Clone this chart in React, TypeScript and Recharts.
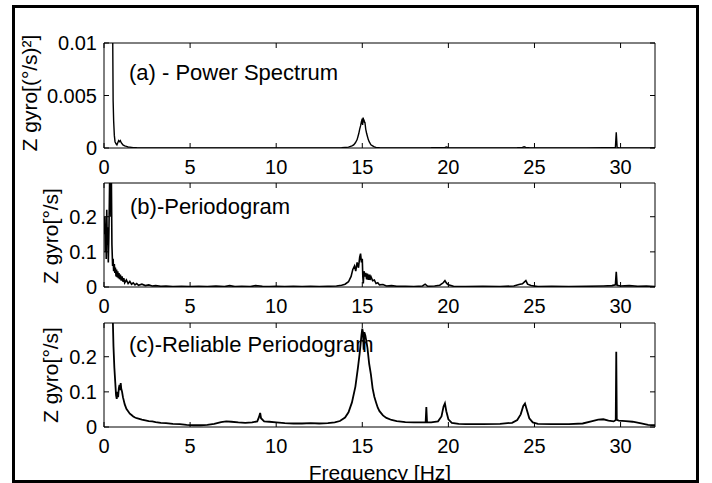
import React from 'react';
import { LineChart, Line, XAxis, YAxis } from 'recharts';

// (a) power spectrum, Z gyro [(deg/s)^2]
const freqA = [
  0.45, 0.5, 0.53, 0.56, 0.6, 0.64, 0.7, 0.75, 0.8, 0.85, 0.9, 0.95, 1.0, 1.05, 1.1, 1.2, 1.3, 1.4,
  1.5, 1.7, 1.9, 2.2, 2.6, 3, 4, 5, 6, 7, 8, 9, 10, 11, 12, 13, 13.8, 14.2, 14.4, 14.5, 14.6, 14.7,
  14.75, 14.8, 14.85, 14.9, 14.95, 15.0, 15.02, 15.05, 15.08, 15.1, 15.13, 15.15, 15.2, 15.25, 15.3,
  15.35, 15.4, 15.5, 15.6, 15.7, 15.8, 16.0, 16.5, 17, 18, 19, 19.8, 19.9, 20.0, 20.5, 21, 22, 23,
  24, 24.3, 24.4, 24.5, 24.7, 25, 26, 27, 28, 29, 29.6, 29.7, 29.75, 29.8, 29.9, 30.5, 31, 32,
];
const powerA = [
  0.05, 0.012, 0.0045, 0.0026, 0.0012, 0.0006, 0.0004, 0.0003, 0.0005, 0.0007, 0.0006, 0.0007, 0.0005,
  0.0004, 0.0003, 0.0002, 0.00015, 0.0001, 0.00008, 0.00004, 0.00002, 0.00001, 0.00001, 0.00001,
  0.00001, 0, 0.00001, 0, 0.00001, 0, 0.00001, 0, 0.00001, 0.00001, 0.00003, 0.00008, 0.0002, 0.0003,
  0.0005, 0.0008, 0.0011, 0.0014, 0.0018, 0.0021, 0.0025, 0.0028, 0.0022, 0.0029, 0.0026, 0.0027,
  0.0024, 0.0025, 0.0018, 0.0014, 0.0011, 0.0008, 0.0006, 0.0003, 0.0002, 0.0001, 0.00006, 0.00002,
  0.00001, 0, 0.00001, 0.00002, 0.00006, 0.0001, 0.00004, 0.00001, 0, 0.00001, 0, 0.00002, 0.00005,
  0.00012, 0.00006, 0.00002, 0, 0.00001, 0, 0.00001, 0.00002, 0.00003, 0.00005, 0.0015, 0.00005,
  0.00002, 0.00001, 0, 0,
];

// (b) periodogram, Z gyro [deg/s]
const freqB = [
  0.02, 0.05, 0.08, 0.1, 0.13, 0.16, 0.19, 0.22, 0.25, 0.28, 0.31, 0.34, 0.37, 0.4, 0.43, 0.46, 0.5,
  0.53, 0.56, 0.6, 0.63, 0.66, 0.7, 0.73, 0.76, 0.8, 0.83, 0.87, 0.9, 0.95, 1.0, 1.05, 1.1, 1.15, 1.2,
  1.3, 1.4, 1.5, 1.6, 1.7, 1.8, 1.9, 2.0, 2.2, 2.4, 2.6, 2.8, 3.0, 3.3, 3.6, 4.0, 4.5, 5.0, 5.5, 6.0,
  6.5, 7.0, 7.3, 7.6, 8.0, 8.5, 8.8, 9.2, 9.6, 10.0, 10.5, 11.0, 11.5, 12.0, 12.5, 13.0, 13.5, 13.8,
  14.0, 14.2, 14.35, 14.45, 14.55, 14.62, 14.7, 14.78, 14.85, 14.9, 14.95, 15.0, 15.03, 15.06, 15.1,
  15.15, 15.2, 15.25, 15.3, 15.35, 15.4, 15.45, 15.5, 15.6, 15.7, 15.8, 15.9, 16.0, 16.2, 16.4, 16.7,
  17.0, 17.5, 18.0, 18.5, 18.65, 18.8, 19.2, 19.5, 19.7, 19.8, 19.9, 20.0, 20.3, 21, 22, 23, 23.8,
  24.1, 24.3, 24.5, 24.6, 24.8, 25.2, 26, 27, 28, 29, 29.5, 29.7, 29.75, 29.8, 30, 30.5, 31, 31.5, 32,
];
const periodB = [
  0.15, 0.2, 0.1, 0.18, 0.08, 0.22, 0.12, 0.17, 0.07, 0.14, 0.24, 0.35, 0.34, 0.2, 0.3, 0.12, 0.06,
  0.08, 0.045, 0.065, 0.04, 0.055, 0.03, 0.05, 0.028, 0.045, 0.025, 0.04, 0.022, 0.035, 0.018, 0.03,
  0.015, 0.025, 0.012, 0.02, 0.01, 0.016, 0.008, 0.012, 0.006, 0.01, 0.005, 0.008, 0.004, 0.006, 0.003,
  0.004, 0.002, 0.003, 0.001, 0.002, 0.001, 0.002, 0.001, 0.003, 0.001, 0.004, 0.001, 0.002, 0.001,
  0.004, 0.002, 0.001, 0.002, 0.001, 0.002, 0.001, 0.002, 0.001, 0.002, 0.003, 0.005, 0.008, 0.015,
  0.03, 0.05, 0.06, 0.045, 0.07, 0.055, 0.085, 0.095, 0.07, 0.08, 0.03, 0.01, 0.045, 0.03, 0.04, 0.022,
  0.038, 0.02, 0.035, 0.02, 0.03, 0.018, 0.02, 0.01, 0.012, 0.006, 0.007, 0.003, 0.004, 0.002, 0.002,
  0.001, 0.003, 0.008, 0.002, 0.003, 0.005, 0.012, 0.018, 0.01, 0.006, 0.002, 0.001, 0.002, 0.001,
  0.003, 0.007, 0.009, 0.018, 0.008, 0.004, 0.001, 0.002, 0.001, 0.002, 0.003, 0.004, 0.006, 0.043,
  0.005, 0.003, 0.004, 0.002, 0.003, 0.001,
];

// (c) reliable periodogram, Z gyro [deg/s]
const freqC = [
  0.45, 0.5, 0.55, 0.6, 0.65, 0.7, 0.74, 0.78, 0.82, 0.86, 0.9, 0.94, 0.97, 1.0, 1.05, 1.1, 1.15, 1.2,
  1.3, 1.4, 1.5, 1.6, 1.7, 1.8, 1.9, 2.0, 2.2, 2.4, 2.6, 2.8, 3.0, 3.3, 3.6, 4.0, 4.4, 4.8, 5.2, 5.6,
  6.0, 6.4, 6.8, 7.1, 7.4, 7.8, 8.2, 8.6, 8.9, 9.0, 9.07, 9.12, 9.3, 9.6, 10.0, 10.5, 11, 11.5, 12,
  12.5, 13, 13.4, 13.7, 14.0, 14.2, 14.4, 14.6, 14.75, 14.85, 14.95, 15.0, 15.04, 15.08, 15.12, 15.18,
  15.25, 15.3, 15.4, 15.5, 15.6, 15.7, 15.8, 15.9, 16.0, 16.2, 16.4, 16.7, 17.0, 17.5, 18.0, 18.5,
  18.68, 18.72, 18.76, 19.0, 19.4, 19.6, 19.72, 19.8, 19.88, 20.0, 20.2, 20.6, 21, 22, 23, 23.7, 24.0,
  24.2, 24.35, 24.45, 24.55, 24.7, 24.9, 25.2, 26, 27, 27.8, 28.3, 28.7, 29.0, 29.3, 29.6, 29.72,
  29.75, 29.78, 29.9, 30.3, 30.7, 31.2, 31.6, 32,
];
const reliableC = [
  0.5, 0.33, 0.23, 0.17, 0.13, 0.09, 0.08, 0.1, 0.085, 0.11, 0.12, 0.105, 0.125, 0.11, 0.1, 0.085,
  0.075, 0.065, 0.052, 0.045, 0.038, 0.034, 0.03, 0.027, 0.025, 0.024, 0.021, 0.019, 0.017, 0.016,
  0.014, 0.012, 0.011, 0.009, 0.008, 0.006, 0.005, 0.005, 0.006, 0.009, 0.014, 0.016, 0.015, 0.013,
  0.012, 0.013, 0.016, 0.028, 0.04, 0.025, 0.016, 0.015, 0.013, 0.011, 0.01, 0.01, 0.011, 0.01, 0.011,
  0.013, 0.017, 0.027, 0.042, 0.07, 0.115, 0.17, 0.21, 0.26, 0.28, 0.27, 0.22, 0.27, 0.26, 0.24,
  0.225, 0.18, 0.15, 0.11, 0.086, 0.07, 0.055, 0.045, 0.033, 0.026, 0.02, 0.017, 0.014, 0.013, 0.013,
  0.014, 0.057, 0.014, 0.013, 0.016, 0.03, 0.058, 0.067, 0.045, 0.022, 0.012, 0.009, 0.008, 0.008,
  0.009, 0.012, 0.02, 0.036, 0.06, 0.067, 0.05, 0.025, 0.013, 0.009, 0.008, 0.008, 0.01, 0.016, 0.021,
  0.022, 0.018, 0.016, 0.02, 0.214, 0.02, 0.018, 0.017, 0.015, 0.01, 0.006, 0.005,
];

const xTicks = [0, 5, 10, 15, 20, 25, 30];
const ticksA = [0, 0.005, 0.01];
const ticksBC = [0, 0.1, 0.2];

const dataA = freqA.map((f, i) => ({ f, v: powerA[i] }));
const dataB = freqB.map((f, i) => ({ f, v: periodB[i] }));
const dataC = freqC.map((f, i) => ({ f, v: reliableC[i] }));

const W = 712;
const H = 483;
const LEFT = 104;
const RIGHT = 655;
const FONT = '"Liberation Sans", Arial, Helvetica, sans-serif';

const BottomTick = (props: any) => {
  const { x, y, payload } = props;
  return (
    <g>
      <line x1={x} y1={y} x2={x} y2={y - 5} stroke="#000" />
      <text x={x} y={y + 26} textAnchor="middle" fontSize={20} fontFamily={FONT} fill="#000">
        {payload.value}
      </text>
    </g>
  );
};

const TopTick = (props: any) => {
  const { x, y } = props;
  return <line x1={x} y1={y} x2={x} y2={y + 5} stroke="#000" />;
};

const LeftTick = (props: any) => {
  const { x, y, payload } = props;
  return (
    <g>
      <line x1={x} y1={y} x2={x + 5} y2={y} stroke="#000" />
      <text x={x - 7} y={y + 7} textAnchor="end" fontSize={20} fontFamily={FONT} fill="#000">
        {String(payload.value)}
      </text>
    </g>
  );
};

const RightTick = (props: any) => {
  const { x, y } = props;
  return <line x1={x} y1={y} x2={x - 5} y2={y} stroke="#000" />;
};

type PanelProps = {
  data: { f: number; v: number }[];
  top: number;
  bottom: number;
  yMax: number;
  yTicks: number[];
  lw: number;
};

const Panel = ({ data, top, bottom, yMax, yTicks, lw }: PanelProps) => (
  <div style={{ position: 'absolute', left: 0, top: 0 }}>
    <LineChart
      width={W}
      height={H}
      data={data}
      margin={{ top: top - 10, bottom: H - bottom - 30, left: LEFT - 60, right: W - RIGHT - 10 }}
    >
      <XAxis
        xAxisId="b"
        dataKey="f"
        type="number"
        domain={[0, 32]}
        ticks={xTicks}
        interval={0}
        allowDataOverflow
        height={30}
        tickSize={0}
        tickMargin={0}
        tickLine={false}
        axisLine={{ stroke: '#000' }}
        tick={<BottomTick />}
      />
      <XAxis
        xAxisId="t"
        orientation="top"
        dataKey="f"
        type="number"
        domain={[0, 32]}
        ticks={xTicks}
        interval={0}
        allowDataOverflow
        height={10}
        tickSize={0}
        tickMargin={0}
        tickLine={false}
        axisLine={{ stroke: '#000' }}
        tick={<TopTick />}
      />
      <YAxis
        yAxisId="l"
        type="number"
        domain={[0, yMax]}
        ticks={yTicks}
        interval={0}
        allowDataOverflow
        width={60}
        tickSize={0}
        tickMargin={0}
        tickLine={false}
        axisLine={{ stroke: '#000' }}
        tick={<LeftTick />}
      />
      <YAxis
        yAxisId="r"
        orientation="right"
        type="number"
        domain={[0, yMax]}
        ticks={yTicks}
        interval={0}
        allowDataOverflow
        width={10}
        tickSize={0}
        tickMargin={0}
        tickLine={false}
        axisLine={{ stroke: '#000' }}
        tick={<RightTick />}
      />
      <Line
        xAxisId="b"
        yAxisId="l"
        dataKey="v"
        type="linear"
        stroke="#000"
        strokeWidth={lw}
        dot={false}
        isAnimationActive={false}
      />
    </LineChart>
  </div>
);

const App = () => (
  <div style={{ position: 'absolute', left: 0, top: 0, width: W, height: H, background: '#fff', overflow: 'hidden' }}>
    <Panel data={dataA} top={43} bottom={148} yMax={0.01} yTicks={ticksA} lw={1.4} />
    <Panel data={dataB} top={183} bottom={287} yMax={0.296} yTicks={ticksBC} lw={1.6} />
    <Panel data={dataC} top={323} bottom={427} yMax={0.296} yTicks={ticksBC} lw={1.8} />
    <svg width={W} height={H} style={{ position: 'absolute', left: 0, top: 0, pointerEvents: 'none' }}>
      <g fontFamily={FONT} fill="#000">
        <text x={129} y={80} fontSize={22}>(a) - Power Spectrum</text>
        <text x={130} y={214} fontSize={22}>(b)-Periodogram</text>
        <text x={129} y={352} fontSize={22}>(c)-Reliable Periodogram</text>
        <text x={37} y={93} fontSize={21} textAnchor="middle" transform="rotate(-90 37 93)">
          Z gyro[(°/s)²]
        </text>
        <text x={58} y={236} fontSize={21} textAnchor="middle" transform="rotate(-90 58 236)">
          Z gyro[°/s]
        </text>
        <text x={58} y={375} fontSize={21} textAnchor="middle" transform="rotate(-90 58 375)">
          Z gyro[°/s]
        </text>
        <text x={380} y={480} fontSize={21} textAnchor="middle">Frequency [Hz]</text>
      </g>
      <rect x={13.5} y={6.5} width={684} height={475} fill="none" stroke="#000" strokeWidth={3} />
    </svg>
  </div>
);

export default App;
